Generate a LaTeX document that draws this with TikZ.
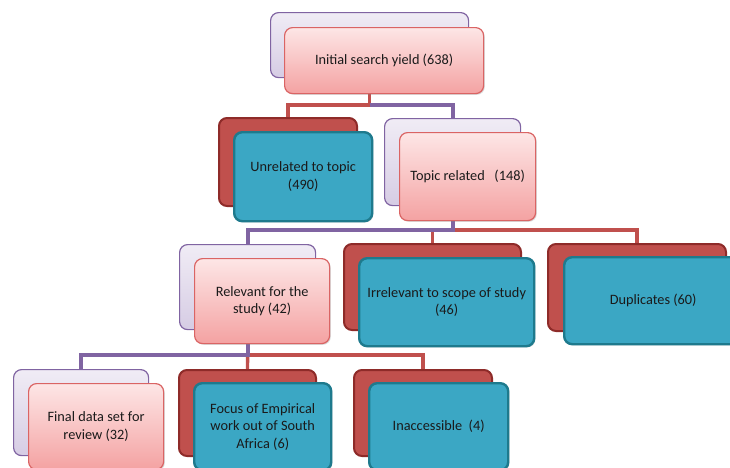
\documentclass[tikz,border=0pt]{standalone}
\usepackage{fontspec}
\setmainfont{Carlito}
\usetikzlibrary{backgrounds,shadows}
\definecolor{purpline}{HTML}{8064A2}
\definecolor{purptop}{HTML}{F0ECF5}
\definecolor{purpbot}{HTML}{D6CCE4}
\definecolor{pinktop}{HTML}{FDE6E6}
\definecolor{pinkbot}{HTML}{F4A2A2}
\definecolor{pinkline}{HTML}{DA6464}
\definecolor{redfill}{HTML}{C0504D}
\definecolor{redline}{HTML}{8E2B29}
\definecolor{tealfill}{HTML}{3BA7C4}
\definecolor{tealline}{HTML}{1E7A8D}
\definecolor{txt}{HTML}{1A1A1A}
\begin{document}
\begin{tikzpicture}[x=1pt,y=-1pt,
  box/.style={rounded corners=8pt, inner sep=2pt, align=center, anchor=north west,
    font=\fontsize{14.3}{17.5}\selectfont, text=txt},
  purpback/.style={box, draw=purpline, line width=1.2pt, top color=purptop, bottom color=purpbot},
  redback/.style={box, draw=redline, line width=2pt, fill=redfill},
  pinkfront/.style={box, draw=pinkline, line width=1.2pt, top color=pinktop, bottom color=pinkbot,
    drop shadow={shadow xshift=1.2pt, shadow yshift=-1.2pt, opacity=0.3}},
  tealfront/.style={box, draw=tealline, line width=2.4pt, fill=tealfill,
    drop shadow={shadow xshift=1.2pt, shadow yshift=-1.2pt, opacity=0.3}},
  redc/.style={draw=redfill, line width=3.4pt},
  purpc/.style={draw=purpline, line width=3.8pt}]
\useasboundingbox (0,0) rectangle (730,467);
\clip (0,0) rectangle (730,467);

% level 1
\node[purpback, minimum width=198pt, minimum height=65pt] (initB) at (270,12) {};
\node[pinkfront, minimum width=199pt, minimum height=66pt] (initF) at (284,27) {Initial search yield (638)};

% level 2
\node[redback, minimum width=138pt, minimum height=88pt] (unrelB) at (218,117) {};
\node[tealfront, minimum width=138pt, minimum height=89pt] (unrelF) at (233,131) {Unrelated to topic\\(490)};
\node[purpback, minimum width=136pt, minimum height=87pt] (topicB) at (384,118) {};
\node[pinkfront, minimum width=136pt, minimum height=88pt] (topicF) at (399,132) {Topic related\ \ \ (148)};

% level 3
\node[purpback, minimum width=136pt, minimum height=85pt] (relB) at (179,244) {};
\node[pinkfront, minimum width=135pt, minimum height=85pt] (relF) at (194,258) {Relevant for the\\study (42)};
\node[redback, minimum width=177pt, minimum height=86pt] (irrB) at (343,243) {};
\node[tealfront, minimum width=175pt, minimum height=88pt] (irrF) at (358,257) {Irrelevant to scope of study\\(46)};
\node[redback, minimum width=178pt, minimum height=87pt] (dupB) at (547,243) {};
\node[tealfront, minimum width=178pt, minimum height=87pt] (dupF) at (563,256) {Duplicates (60)};

% level 4
\node[purpback, minimum width=135pt, minimum height=86pt] (finB) at (13,369) {};
\node[pinkfront, minimum width=135pt, minimum height=86pt] (finF) at (28,383) {Final data set for\\review (32)};
\node[redback, minimum width=137pt, minimum height=86pt] (focB) at (178,369) {};
\node[tealfront, minimum width=137pt, minimum height=87pt] (focF) at (193,382) {Focus of Empirical\\work out of South\\Africa (6)};
\node[redback, minimum width=138pt, minimum height=86pt] (inaB) at (353,369) {};
\node[tealfront, minimum width=139pt, minimum height=87pt] (inaF) at (368,382) {Inaccessible\ \ (4)};

\coordinate (h1) at (0,105);
\coordinate (h2) at (0,230);
\coordinate (h3) at (0,355);

\begin{pgfonlayer}{background}
  \draw[redc] (initB.south) -- (initB.south |- h1) -| (unrelB.north);
  \draw[purpc] (initB.south |- h1) -| (topicB.north);

  \draw[redc] (topicB.south |- h2) -| (irrB.north);
  \draw[redc] (topicB.south |- h2) -| (dupB.north);
  \draw[purpc] (topicB.south) -- (topicB.south |- h2) -| (relB.north);

  \draw[redc] (relB.south |- h3) -- (focB.north);
  \draw[redc] (relB.south |- h3) -| (inaB.north);
  \draw[purpc] (relB.south) -- (relB.south |- h3) -| (finB.north);
\end{pgfonlayer}
\end{tikzpicture}
\end{document}
